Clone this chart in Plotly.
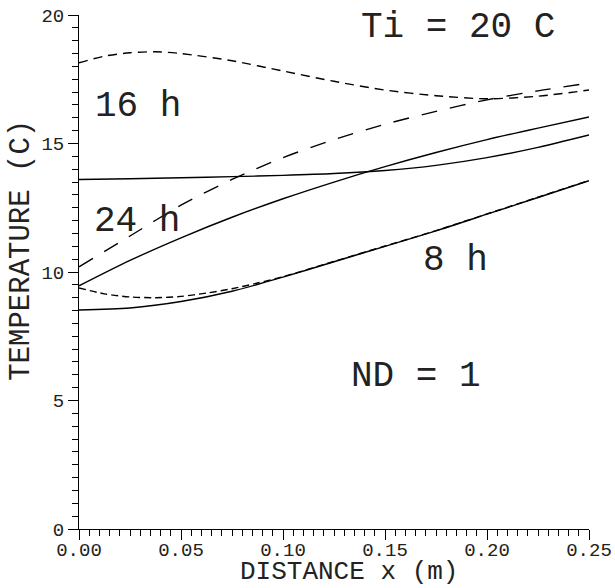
import plotly.graph_objects as go

# Temperature profiles T(x) at several times, Ti = 20 C, ND = 1
x_a = [0.0, 0.0125, 0.025, 0.0375, 0.05, 0.075, 0.10, 0.125, 0.15, 0.175, 0.20, 0.225, 0.25]
t_a = [18.14, 18.40, 18.53, 18.57, 18.50, 18.22, 17.82, 17.42, 17.08, 16.86, 16.74, 16.84, 17.08]

x_b = [0.0, 0.025, 0.05, 0.075, 0.10, 0.125, 0.15, 0.175, 0.20, 0.225, 0.25]
t_b = [10.20, 11.40, 12.60, 13.60, 14.45, 15.15, 15.75, 16.25, 16.70, 17.05, 17.35]

x_c = [0.0, 0.025, 0.05, 0.075, 0.10, 0.125, 0.15, 0.175, 0.20, 0.225, 0.25]
t_c = [13.60, 13.63, 13.67, 13.71, 13.76, 13.83, 13.95, 14.15, 14.45, 14.85, 15.33]

x_d = [0.0, 0.025, 0.05, 0.075, 0.10, 0.125, 0.15, 0.175, 0.20, 0.225, 0.25]
t_d = [9.46, 10.45, 11.33, 12.13, 12.85, 13.50, 14.10, 14.65, 15.15, 15.60, 16.03]

x_e = [0.0, 0.0125, 0.025, 0.0375, 0.05, 0.0625, 0.075, 0.0875, 0.10, 0.125, 0.15, 0.175, 0.20, 0.225, 0.25]
t_e = [9.38, 9.15, 9.03, 9.00, 9.05, 9.18, 9.35, 9.57, 9.82, 10.41, 11.01, 11.61, 12.26, 12.91, 13.56]

x_f = [0.0, 0.025, 0.05, 0.075, 0.10, 0.125, 0.15, 0.175, 0.20, 0.225, 0.25]
t_f = [8.52, 8.60, 8.85, 9.25, 9.80, 10.40, 11.00, 11.60, 12.25, 12.90, 13.55]

x_ticks = [0.0, 0.05, 0.10, 0.15, 0.20, 0.25]
x_tick_text = ["0.00", "0.05", "0.10", "0.15", "0.20", "0.25"]
y_ticks = [0, 5, 10, 15, 20]
y_tick_text = ["0", "5", "10", "15", "20"]

labels = ["Ti = 20 C", "16 h", "24 h", "8 h", "ND = 1"]
label_x = [0.1858, 0.0289, 0.0284, 0.1848, 0.165]
label_y = [19.5, 16.45, 11.95, 10.45, 5.95]

FONT = "Liberation Mono"
INK = "#222"

fig = go.Figure()
series = [
    (x_a, t_a, "9px,6px"),
    (x_b, t_b, "16px,13px"),
    (x_c, t_c, "solid"),
    (x_d, t_d, "solid"),
    (x_f, t_f, "solid"),
    (x_e, t_e, "7px,4px"),
]
for xs, ts, dash in series:
    fig.add_trace(go.Scatter(
        x=xs, y=ts, mode="lines",
        line=dict(color="black", width=1.4, dash=dash, shape="spline", smoothing=0.8),
        showlegend=False, hoverinfo="skip",
    ))

for txt, lx, ly in zip(labels, label_x, label_y):
    fig.add_annotation(x=lx, y=ly, xref="x", yref="y", text=txt, showarrow=False,
                       xanchor="center", yanchor="middle",
                       font=dict(family=FONT, size=36, color=INK))

fig.add_annotation(x=0.53, y=-0.0846, xref="paper", yref="paper", text="DISTANCE x (m)",
                   showarrow=False, xanchor="center", yanchor="middle", borderpad=0,
                   font=dict(family=FONT, size=26, color=INK))
fig.add_annotation(x=-0.112, y=0.543, xref="paper", yref="paper", text="TEMPERATURE (C)",
                   showarrow=False, textangle=-90, xanchor="center", yanchor="middle",
                   font=dict(family=FONT, size=29, color=INK))

fig.update_xaxes(
    range=[0, 0.25], tickvals=x_ticks, ticktext=x_tick_text, automargin=False,
    showgrid=False, zeroline=False, showline=True, linecolor="black", linewidth=1,
    ticks="outside", ticklen=10, tickcolor="black", tickwidth=1, ticklabelstandoff=-7,
    tickfont=dict(family=FONT, size=19, color=INK),
    minor=dict(dtick=0.005, ticks="outside", ticklen=6, tickcolor="black", tickwidth=1, showgrid=False),
)
fig.update_yaxes(
    range=[0, 20], tickvals=y_ticks, ticktext=y_tick_text, automargin=False,
    showgrid=False, zeroline=False, showline=True, linecolor="black", linewidth=1,
    ticks="outside", ticklen=10, tickcolor="black", tickwidth=1,
    tickfont=dict(family=FONT, size=19, color=INK),
    minor=dict(dtick=0.5, ticks="outside", ticklen=6, tickcolor="black", tickwidth=1, showgrid=False),
)
fig.update_layout(
    width=615, height=588,
    margin=dict(l=79, r=26, t=15, b=59),
    plot_bgcolor="white", paper_bgcolor="white",
)
fig.write_html("out.html")
